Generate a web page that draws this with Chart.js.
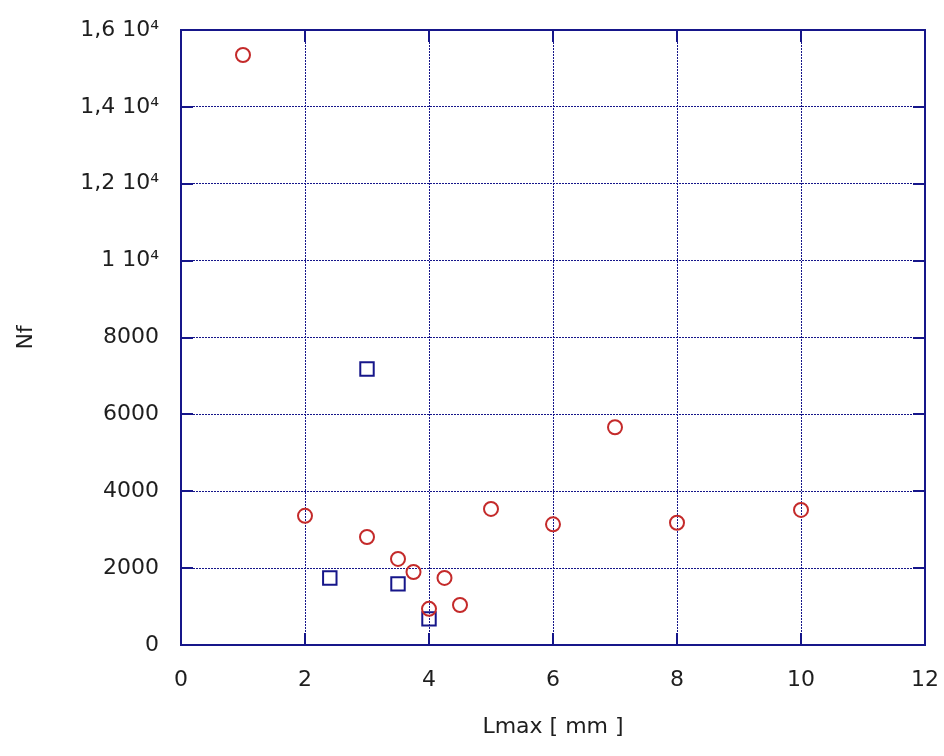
<!DOCTYPE html>
<html>
<head>
<meta charset="utf-8">
<script src="https://cdn.jsdelivr.net/npm/chart.js@4/dist/chart.umd.min.js"></script>
<style>
  html, body { margin: 0; padding: 0; background: #fff; }
  canvas { display: block; }
</style>
</head>
<body>
<canvas id="c" width="944" height="756"></canvas>
<script>
// Lmax [mm] vs Nf, two specimen groups
const circleLmax = [1, 2, 3, 3.5, 3.75, 4, 4.25, 4.5, 5, 6, 7, 8, 10];
const circleNf   = [15350, 3360, 2810, 2240, 1900, 940, 1745, 1040, 3540, 3140, 5665, 3180, 3515];

const squareLmax = [2.4, 3, 3.5, 4];
const squareNf   = [1745, 7180, 1590, 680];

const yTickValues = [0, 2000, 4000, 6000, 8000, 10000, 12000, 14000, 16000];
const yTickLabels = ['0', '2000', '4000', '6000', '8000', '1 10⁴', '1,2 10⁴', '1,4 10⁴', '1,6 10⁴'];
const xTickValues = [0, 2, 4, 6, 8, 10, 12];
const xTickLabels = ['0', '2', '4', '6', '8', '10', '12'];

const NAVY = '#16168a';
const FONT = { family: '"DejaVu Sans", sans-serif', size: 22 };
const TEXT = '#1e1e1e';

const toPoints = (xs, ys) => xs.map((x, i) => ({ x, y: ys[i] }));

// White page, closed frame and short inward tick marks on all four sides
const framePlugin = {
  id: 'frame',
  beforeDraw(chart) {
    const { ctx } = chart;
    ctx.save();
    ctx.fillStyle = '#fff';
    ctx.fillRect(0, 0, chart.width, chart.height);
    ctx.restore();
  },
  afterDatasetsDraw(chart) {
    const { ctx, chartArea: a, scales } = chart;
    const len = 12;
    ctx.save();
    ctx.strokeStyle = NAVY;
    ctx.lineWidth = 2;
    ctx.beginPath();
    scales.y.ticks.forEach(t => {
      const y = Math.round(scales.y.getPixelForValue(t.value));
      ctx.moveTo(a.left, y); ctx.lineTo(a.left + len, y);
      ctx.moveTo(a.right, y); ctx.lineTo(a.right - len, y);
    });
    scales.x.ticks.forEach(t => {
      const x = Math.round(scales.x.getPixelForValue(t.value));
      ctx.moveTo(x, a.bottom); ctx.lineTo(x, a.bottom - len);
      ctx.moveTo(x, a.top); ctx.lineTo(x, a.top + len);
    });
    ctx.stroke();
    ctx.strokeRect(a.left, a.top, a.right - a.left, a.bottom - a.top);
    ctx.restore();
  }
};

new Chart(document.getElementById('c'), {
  type: 'scatter',
  data: {
    datasets: [
      {
        data: toPoints(circleLmax, circleNf),
        pointStyle: 'circle',
        pointRadius: 7,
        pointBorderWidth: 2,
        borderColor: '#c42a2a',
        backgroundColor: 'rgba(0,0,0,0)'
      },
      {
        data: toPoints(squareLmax, squareNf),
        pointStyle: 'rect',
        pointRadius: 9.5,
        pointBorderWidth: 2,
        borderColor: NAVY,
        backgroundColor: 'rgba(0,0,0,0)'
      }
    ]
  },
  options: {
    responsive: false,
    devicePixelRatio: 1,
    animation: false,
    layout: { padding: { top: 30, right: 19, left: 0, bottom: 0 } },
    plugins: { legend: { display: false }, tooltip: { enabled: false } },
    scales: {
      x: {
        type: 'linear',
        min: 0, max: 12,
        afterFit(scale) {
          scale.height = 111;
          scale.paddingLeft = 0;
          scale.paddingRight = 0;
        },
        afterBuildTicks(scale) { scale.ticks = xTickValues.map(v => ({ value: v })); },
        ticks: {
          padding: 22,
          font: FONT,
          color: TEXT,
          callback: v => xTickLabels[xTickValues.indexOf(v)]
        },
        grid: { color: NAVY, lineWidth: 1, drawTicks: false },
        border: { display: false, dash: [2, 1] },
        title: { display: true, text: 'Lmax [ mm ]', font: FONT, color: TEXT, padding: { top: 0, bottom: 16 } }
      },
      y: {
        type: 'linear',
        min: 0, max: 16000,
        afterFit(scale) {
          scale.width = 181;
          scale.paddingTop = 0;
          scale.paddingBottom = 0;
        },
        afterBuildTicks(scale) { scale.ticks = yTickValues.map(v => ({ value: v })); },
        ticks: {
          padding: 22,
          font: FONT,
          color: TEXT,
          callback: v => yTickLabels[yTickValues.indexOf(v)]
        },
        grid: { color: NAVY, lineWidth: 1, drawTicks: false },
        border: { display: false, dash: [2, 1] },
        title: { display: true, text: 'Nf', font: FONT, color: TEXT, padding: { top: 13, bottom: 0 } }
      }
    }
  },
  plugins: [framePlugin]
});
</script>
</body>
</html>
